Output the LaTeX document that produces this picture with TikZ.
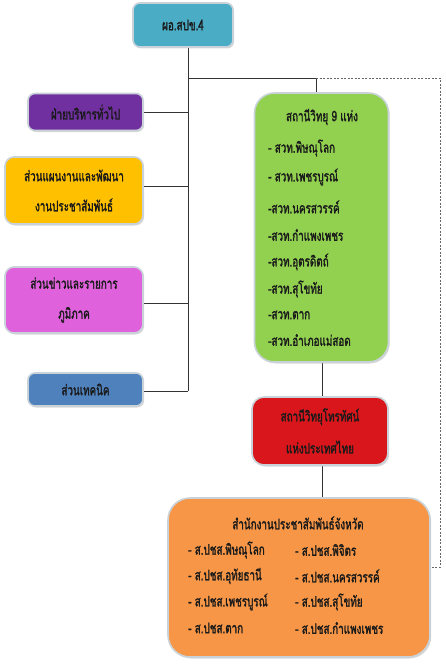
\documentclass[tikz,border=0pt]{standalone}
\usepackage{fontspec}
\newfontfamily\thai[Script=Thai,FakeStretch=0.68,FakeBold=1.6]{Loma}
\usetikzlibrary{shadows}
\pgfdeclarelayer{bg}
\pgfdeclarelayer{lines}
\pgfsetlayers{bg,lines,main}
\definecolor{ctop}{HTML}{4BACC6}
\definecolor{cpurple}{HTML}{7030A0}
\definecolor{cyellow}{HTML}{FFC000}
\definecolor{cmagenta}{HTML}{DF62DC}
\definecolor{cblue}{HTML}{4F81BD}
\definecolor{cgreen}{HTML}{92D050}
\definecolor{cred}{HTML}{D9161B}
\definecolor{corange}{HTML}{F79646}
\definecolor{cedge}{HTML}{C9D2D8}
\definecolor{ctext}{HTML}{1A1A1A}
\begin{document}
\begin{tikzpicture}[x=1pt,y=-1pt,
  box/.style={draw=cedge, line width=1.6pt, rounded corners=#1,
    drop shadow={shadow xshift=1.2pt, shadow yshift=-1.5pt, fill=gray!60, opacity=.5},
    inner sep=0pt, align=center, text=ctext, font=\thai\fontsize{14.5}{30}\selectfont},
  box/.default=7pt,
  lbl/.style={text=ctext, font=\thai\fontsize{14.5}{16}\selectfont, inner sep=0pt},
  conn/.style={draw=black!80, line width=0.7pt},
  dconn/.style={draw=black!60, line width=0.7pt, dash pattern=on 2pt off 1.5pt}]
\useasboundingbox (0,0) rectangle (445,669);
\begin{pgfonlayer}{bg}
\fill[white] (0,0) rectangle (445,669);
\end{pgfonlayer}

% boxes
\node[box, fill=ctop, minimum width=100pt, minimum height=44pt] (top) at (183,25) {ผอ.สปข.4};
\node[box, fill=cpurple, minimum width=115pt, minimum height=37pt] (purple) at (85.5,112) {ฝ่ายบริหารทั่วไป};
\node[box=9pt, fill=cyellow, minimum width=138pt, minimum height=67pt] (yellow) at (74,190.5) {ส่วนแผนงานและพัฒนา\\งานประชาสัมพันธ์};
\node[box=9pt, fill=cmagenta, minimum width=138pt, minimum height=66pt] (magenta) at (74,300) {ส่วนข่าวและรายการ\\ภูมิภาค};
\node[box, fill=cblue, minimum width=115pt, minimum height=33pt] (blue) at (85.5,389.5) {ส่วนเทคนิค};
\node[box=20pt, fill=cgreen, minimum width=134pt, minimum height=269pt] (green) at (321.5,227.5) {};
\node[box=12pt, fill=cred, minimum width=136pt, minimum height=68pt, font=\thai\fontsize{14.5}{32}\selectfont] (red) at (320,431) {สถานีวิทยุโทรทัศน์\\แห่งประเทศไทย};
\node[box=22pt, fill=corange, minimum width=262pt, minimum height=159pt] (orange) at (299,577.5) {};

% green box texts
\node[lbl] (g0) at (322,117) {สถานีวิทยุ 9 แห่ง};
\node[lbl, anchor=west] (g1) at (268,148) {- สวท.พิษณุโลก};
\node[lbl, anchor=west] (g2) at (268,177) {- สวท.เพชรบูรณ์};
\node[lbl, anchor=west] (g3) at (268,207) {-สวท.นครสวรรค์};
\node[lbl, anchor=west] (g4) at (268,235) {-สวท.กำแพงเพชร};
\node[lbl, anchor=west] (g5) at (268,262) {-สวท.อุตรดิตถ์};
\node[lbl, anchor=west] (g6) at (268,289) {-สวท.สุโขทัย};
\node[lbl, anchor=west] (g7) at (268,315) {-สวท.ตาก};
\node[lbl, anchor=west] (g8) at (268,340) {-สวท.อำเภอแม่สอด};

% orange box texts
\node[lbl] (o0) at (298,523) {สำนักงานประชาสัมพันธ์จังหวัด};
\node[lbl, anchor=west] (o1) at (188,550) {- ส.ปชส.พิษณุโลก};
\node[lbl, anchor=west] (o2) at (188,576) {- ส.ปชส.อุทัยธานี};
\node[lbl, anchor=west] (o3) at (188,602) {- ส.ปชส.เพชรบูรณ์};
\node[lbl, anchor=west] (o4) at (188,628) {- ส.ปชส.ตาก};
\node[lbl, anchor=west] (o5) at (295,550) {- ส.ปชส.พิจิตร};
\node[lbl, anchor=west] (o6) at (295,576) {- ส.ปชส.นครสวรรค์};
\node[lbl, anchor=west] (o7) at (295,602) {- ส.ปชส.สุโขทัย};
\node[lbl, anchor=west] (o8) at (295,628) {- ส.ปชส.กำแพงเพชร};

% connectors
\coordinate (tj) at (188,78);
\coordinate (tb) at (188,391);
\coordinate (gj) at (316,78);
\coordinate (dj) at (440,78);
\coordinate (db) at (440,567);
\coordinate (yy) at (0,186);
\coordinate (my) at (0,303);
\coordinate (rx) at (322,0);
\begin{pgfonlayer}{lines}
\draw[conn] (top.south -| tj) -- (tb);
\draw[conn] (tj) -- (gj) -- (gj |- green.north);
\draw[conn] (purple.east) -- (purple.east -| tj);
\draw[conn] (yellow.east |- yy) -- (tj |- yy);
\draw[conn] (magenta.east |- my) -- (tj |- my);
\draw[conn] (blue.east |- tb) -- (tb);
\draw[conn] (rx |- green.south) -- (rx |- red.north);
\draw[conn] (rx |- red.south) -- (rx |- orange.north);
\draw[dconn] (gj) -- (dj) -- (db) -- (db -| orange.east);
\end{pgfonlayer}
\end{tikzpicture}
\end{document}
